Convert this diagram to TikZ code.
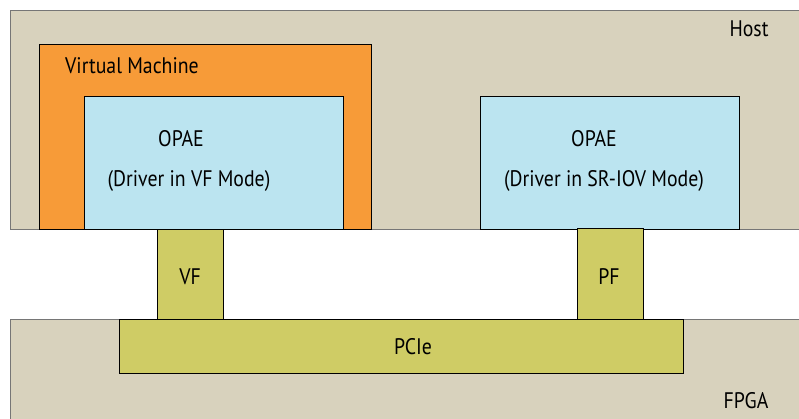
\documentclass[tikz,border=0pt]{standalone}
\usepackage{fontspec}
\setmainfont{PT Sans}[FakeStretch=0.88]
\definecolor{hostc}{HTML}{D8D2BD}
\definecolor{vmc}{HTML}{F79B38}
\definecolor{opaec}{HTML}{BBE4F0}
\definecolor{olivec}{HTML}{CFCC65}
\definecolor{edgec}{HTML}{767676}
\begin{document}
\begin{tikzpicture}[x=1pt,y=-1pt,
  region/.style={draw=edgec, line width=1.2pt, fill=hostc, inner sep=0pt, anchor=north west},
  blk/.style={draw=black, line width=1pt, inner sep=0pt, anchor=north west},
  lbl/.style={font=\fontsize{22.5}{26}\selectfont, inner sep=0pt, text=black}]
\useasboundingbox (0,0) rectangle (799,418);
\clip (0,0) rectangle (799,418);
\node[region, minimum width=800pt, minimum height=219pt] (host) at (10,10) {};
\node[region, minimum width=800pt, minimum height=110pt] (fpga) at (10,319) {};
\node[blk, fill=vmc, minimum width=332pt, minimum height=185pt] (vm) at (39,44) {};
\node[blk, fill=opaec, minimum width=259pt, minimum height=133pt] (opaeL) at (84,96) {};
\node[blk, fill=opaec, minimum width=259pt, minimum height=133pt] (opaeR) at (480,96) {};
\node[blk, fill=olivec, minimum width=66pt, minimum height=90pt] (vf) at (157,229) {};
\node[blk, fill=olivec, minimum width=66pt, minimum height=91pt] (pf) at (577,228) {};
\node[blk, fill=olivec, minimum width=564pt, minimum height=54pt] (pcie) at (119,319) {};
\node[lbl] (thost) at (749,29) {Host};
\node[lbl] (tfpga) at (746,401) {FPGA};
\node[lbl, anchor=west] (tvm) at (65,66) {Virtual Machine};
\node[lbl] (tol) at (181,139) {OPAE};
\node[lbl] (tdl) at (189,181) {(Driver in VF Mode)};
\node[lbl] (tor) at (594,139) {OPAE};
\node[lbl] (tdr) at (604,181) {(Driver in SR-IOV Mode)};
\node[lbl] (tvf) at (190,277) {VF};
\node[lbl] (tpf) at (609,277) {PF};
\node[lbl] (tpcie) at (413,347) {PCIe};
\end{tikzpicture}
\end{document}
